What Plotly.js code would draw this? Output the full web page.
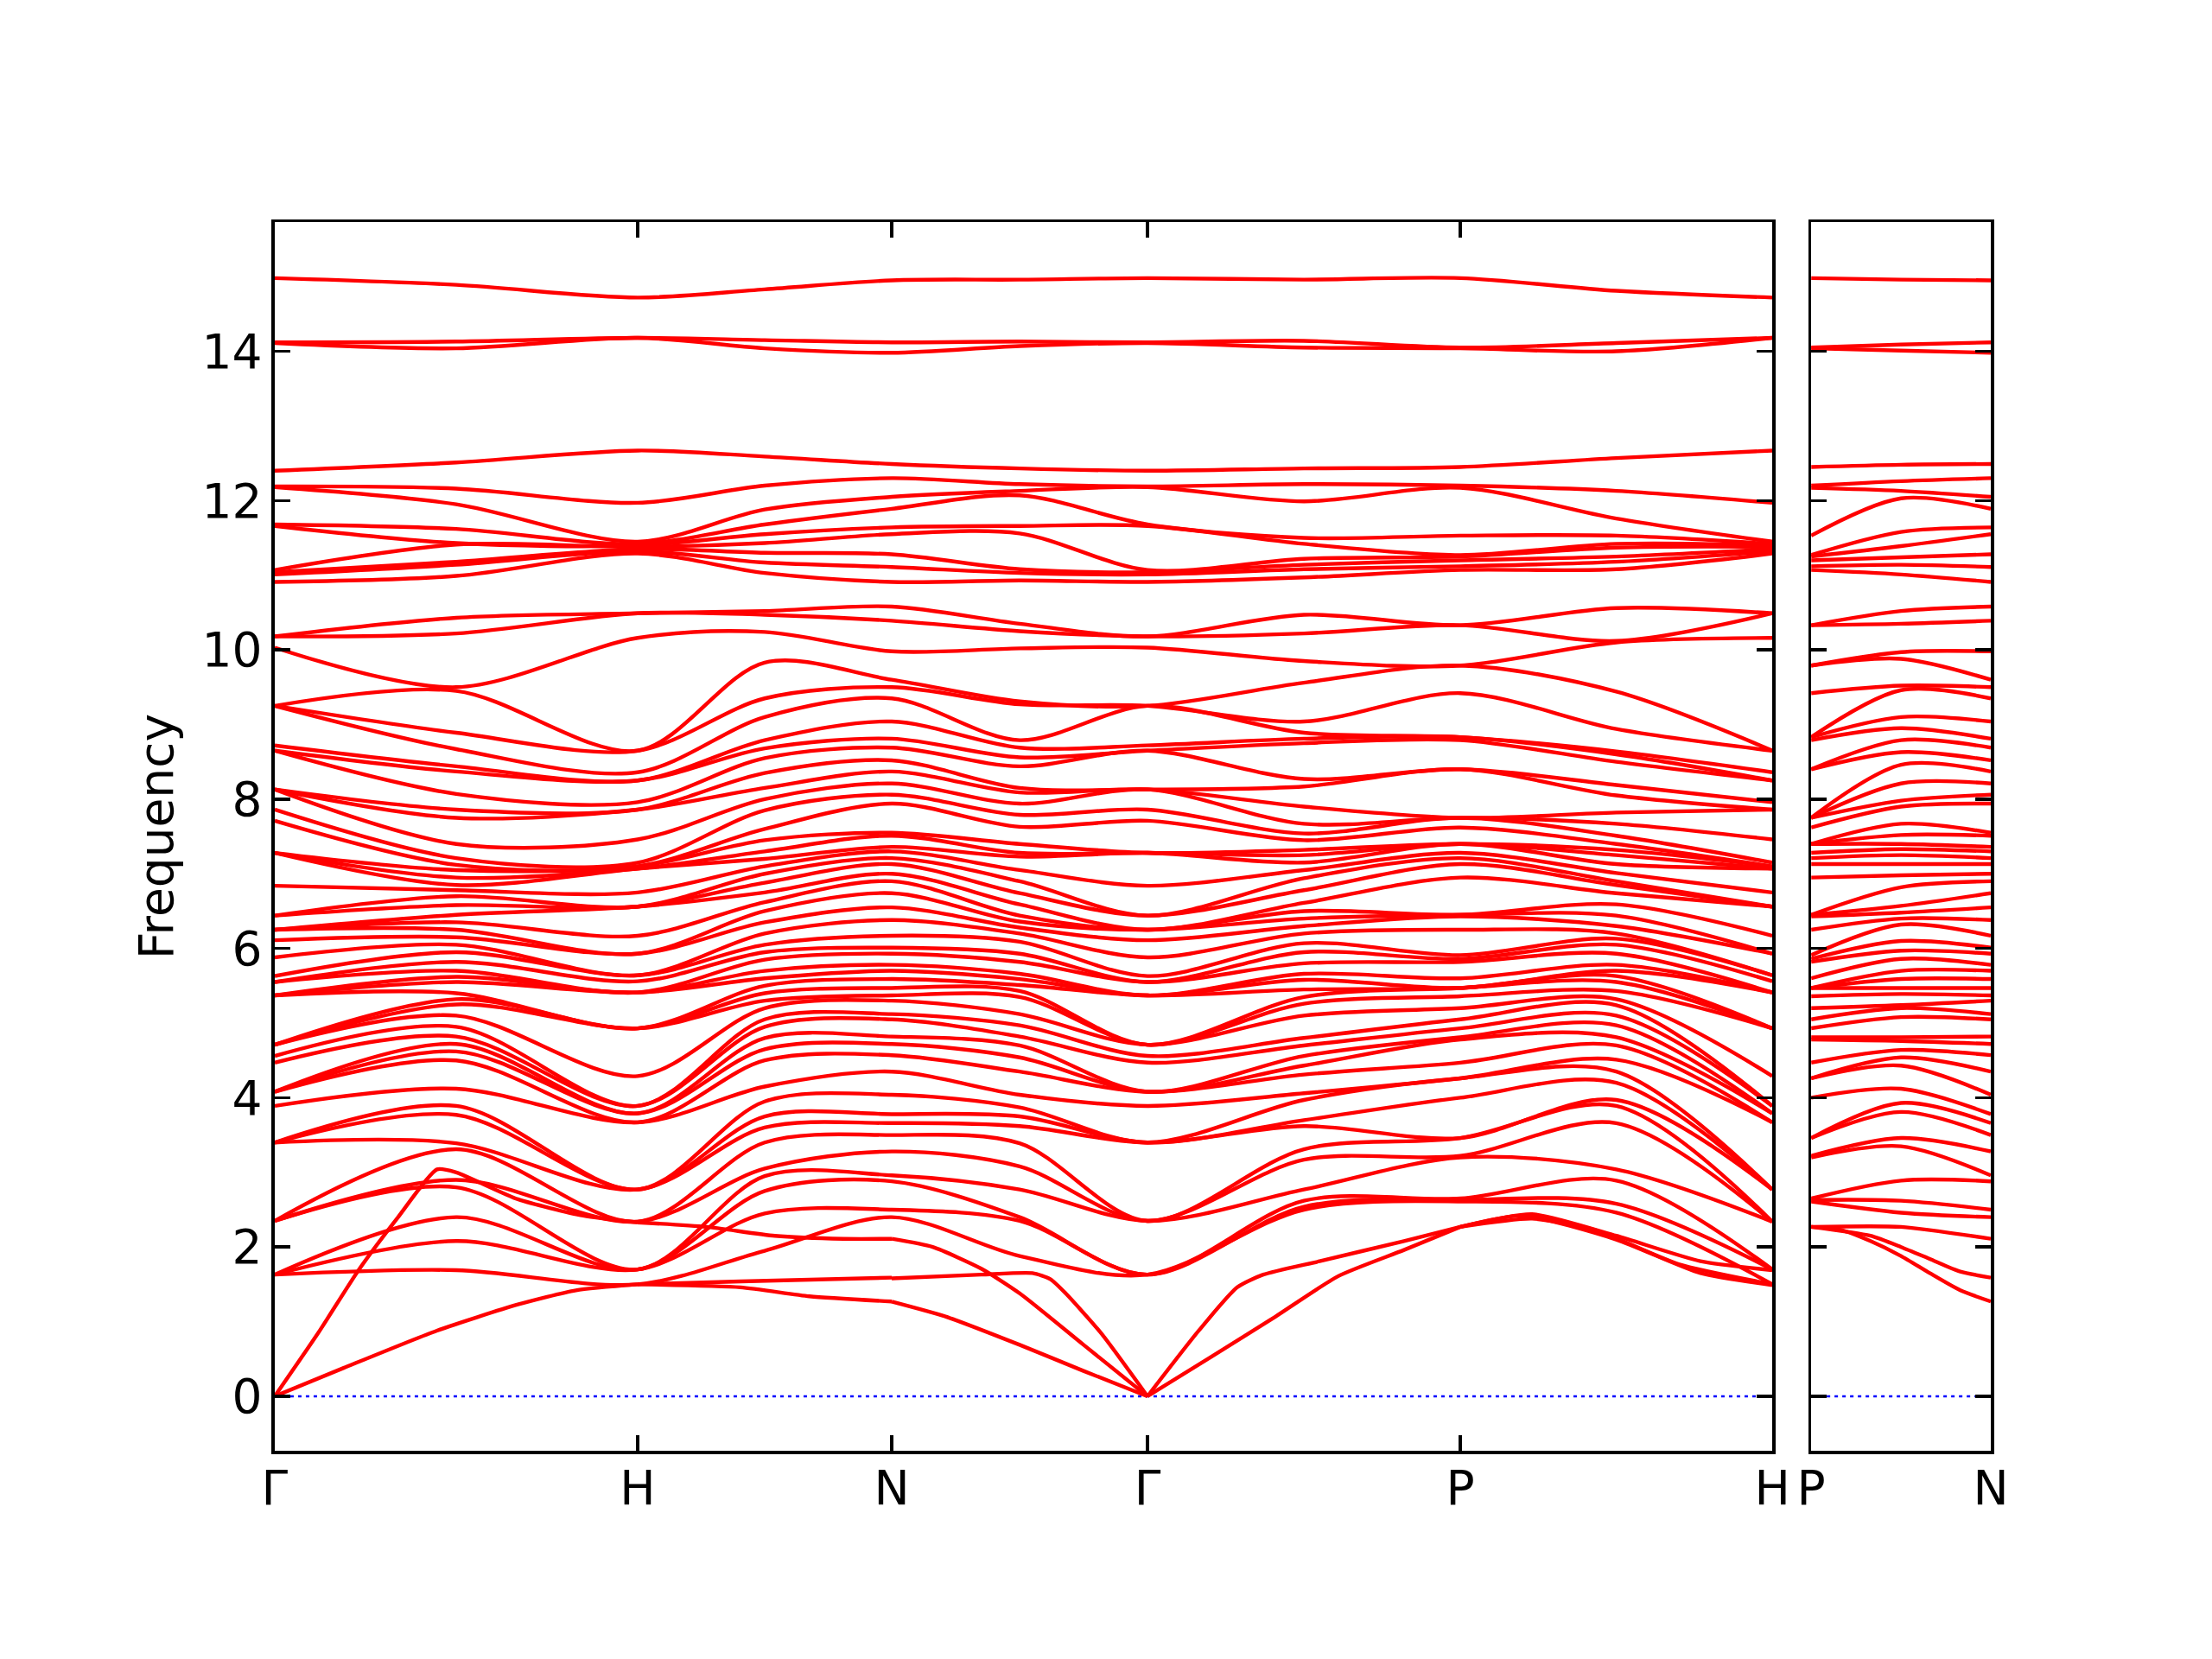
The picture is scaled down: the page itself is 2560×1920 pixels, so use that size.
<!DOCTYPE html>
<html>
<head>
<meta charset="utf-8">
<script src="https://cdn.plot.ly/plotly-3.0.1.min.js"></script>
<style>
html,body{margin:0;padding:0;background:#ffffff;}
#chart{width:2560px;height:1920px;}
</style>
</head>
<body>
<div id="chart"></div>
<script>
// ---------------- q-path (labels and segment lengths, arbitrary distance units) ----------------
const qLeft  = ['Γ','H','N','Γ','P','H'];
const segLeft = [420, 294, 296, 362, 361];
const qRight = ['P','N'];
const segRight = [208];
const yTicks = [0, 2, 4, 6, 8, 10, 12, 14];

// sampled columns along the left path, as "segment index + fraction"
const colFrac = [0, 0.5, 1, 1.5, 2, 2.5, 3, 3.5, 4, 4.5, 5];
const colFracRight = [0, 0.5, 1];

// ---------------- optical frequencies (sorted) at each column, lower group ----------------
const bG  = [1.63,1.63,1.63,2.35,2.35,2.35,3.40,3.40,3.40,3.89,4.08,4.08,4.08,4.47,4.56,4.71,4.71,4.71,5.37,5.37,5.37,5.55,5.55,5.63,5.88,6.11,6.25,6.25,6.25,6.44,6.44,6.84,7.28,7.28,7.28,7.71,7.86,8.13,8.13,8.13,8.65,8.65,8.72,9.25,9.25,9.25,10.03,10.18,10.18];
const bGH = [1.69,2.08,2.40,2.80,2.90,3.31,3.39,3.77,3.89,4.12,4.50,4.62,4.72,4.82,4.95,5.10,5.25,5.32,5.40,5.55,5.62,5.70,5.82,5.95,6.05,6.15,6.25,6.35,6.45,6.58,6.70,6.78,6.85,6.95,7.05,7.12,7.21,7.40,7.75,7.86,8.07,8.37,8.44,8.67,8.89,9.45,9.50,10.22,10.43];
const bH  = [1.50,1.70,1.70,1.70,2.34,2.34,2.77,2.77,2.77,3.67,3.67,3.79,3.79,3.89,3.89,4.29,4.93,4.93,4.93,5.41,5.41,5.41,5.56,5.64,5.64,5.93,5.93,6.17,6.56,6.56,6.56,6.75,7.07,7.07,7.10,7.10,7.15,7.46,7.86,7.86,7.96,8.25,8.25,8.36,8.65,8.65,10.16,10.49,10.49];
const bHN = [1.95,2.45,2.75,2.95,3.05,3.40,3.60,3.75,3.95,4.15,4.50,4.65,4.80,4.95,5.05,5.20,5.30,5.40,5.50,5.60,5.70,5.85,5.95,6.05,6.20,6.35,6.50,6.62,6.75,6.88,7.00,7.10,7.20,7.30,7.45,7.60,7.85,8.00,8.15,8.35,8.55,8.68,8.79,9.10,9.35,9.83,10.24,10.47,10.52];
const bN  = [2.40,2.50,2.88,2.96,3.28,3.50,3.66,3.78,4.04,4.35,4.57,4.72,4.82,5.05,5.12,5.30,5.37,5.47,5.59,5.70,5.78,5.93,6.01,6.17,6.38,6.55,6.74,6.90,7.00,7.13,7.21,7.30,7.36,7.51,7.55,7.94,8.06,8.21,8.37,8.52,8.69,8.81,9.04,9.35,9.50,9.60,9.98,10.39,10.58];
const bNG = [1.88,2.35,2.40,2.77,3.08,3.39,3.62,3.75,3.87,4.04,4.35,4.54,4.70,4.82,4.97,5.12,5.35,5.43,5.51,5.59,5.66,5.82,5.93,6.09,6.20,6.28,6.36,6.44,6.59,6.74,6.90,7.05,7.23,7.28,7.40,7.63,7.79,7.94,8.09,8.15,8.44,8.56,8.69,8.79,9.27,9.31,10.02,10.25,10.35];
const bGP = [2.50,2.54,2.62,2.77,3.17,3.31,3.62,3.70,3.97,4.06,4.31,4.43,4.56,4.70,4.80,5.10,5.26,5.35,5.45,5.58,5.66,5.80,5.95,6.07,6.20,6.30,6.40,6.50,6.61,6.78,6.94,7.05,7.15,7.25,7.32,7.45,7.54,7.67,7.90,8.17,8.27,8.75,8.81,8.89,9.04,9.56,9.85,10.22,10.47];
const bP  = [2.61,2.63,2.65,3.20,3.22,3.46,3.46,4.00,4.26,4.26,4.47,4.78,4.81,4.93,5.05,5.20,5.36,5.47,5.47,5.47,5.60,5.82,5.86,5.91,6.25,6.43,6.45,6.45,6.95,7.13,7.21,7.28,7.40,7.40,7.40,7.62,7.75,7.75,7.75,8.40,8.40,8.79,8.83,8.83,9.42,9.79,9.79,10.33,10.33];
const bPH = [2.46,2.58,2.89,3.04,3.66,3.89,3.97,4.20,4.35,4.51,4.70,4.81,4.97,5.10,5.24,5.32,5.43,5.55,5.63,5.70,5.78,5.93,6.05,6.13,6.20,6.30,6.44,6.59,6.74,6.85,6.90,7.01,7.13,7.25,7.32,7.40,7.51,7.67,7.82,8.05,8.19,8.50,8.60,8.64,8.94,9.44,10.10,10.12,10.56];
const bH2 = [1.50,1.70,1.70,2.34,2.34,2.34,2.77,2.77,2.77,3.67,3.67,3.79,3.79,3.89,3.89,4.29,4.93,4.93,4.93,5.41,5.41,5.41,5.56,5.64,5.64,5.93,5.93,6.17,6.56,6.56,6.56,6.75,7.07,7.07,7.10,7.10,7.15,7.46,7.86,7.86,7.96,8.25,8.25,8.36,8.65,8.65,10.16,10.49,10.49];
const bPN = [2.46,2.62,2.89,3.35,3.46,3.81,3.93,4.12,4.43,4.54,4.64,4.76,4.81,5.08,5.20,5.24,5.39,5.47,5.59,5.70,5.86,5.97,6.10,6.32,6.40,6.48,6.57,6.82,6.98,7.13,7.25,7.33,7.40,7.52,7.67,7.90,7.98,8.21,8.46,8.63,8.79,8.95,9.10,9.46,9.52,9.88,9.97,10.35,10.52];

// ---------------- upper group (above the 10.7 gap) ----------------
const tG  = [10.91,11.01,11.04,11.07,11.66,11.68,12.18,12.19,12.40,14.11,14.12,14.98];
const tGH = [10.99,11.14,11.18,11.41,11.43,11.62,11.95,12.16,12.51,14.04,14.13,14.89];
const tH  = [11.29,11.32,11.35,11.38,11.40,11.42,11.45,11.97,12.67,14.18,14.18,14.72];
const tHN = [11.03,11.17,11.30,11.43,11.55,11.68,11.88,12.20,12.59,14.04,14.15,14.83];
const tN  = [10.91,11.11,11.28,11.55,11.64,11.89,12.05,12.30,12.49,13.98,14.12,14.95];
const tNG = [10.93,11.03,11.08,11.56,11.66,12.07,12.13,12.22,12.43,14.07,14.13,14.96];
const tGP = [10.97,11.08,11.14,11.22,11.42,11.50,11.99,12.22,12.43,14.05,14.14,14.96];
const tP  = [11.07,11.12,11.20,11.25,11.27,11.53,12.17,12.20,12.45,14.04,14.05,14.98];
const tPH = [11.08,11.18,11.25,11.37,11.42,11.53,11.76,12.13,12.57,14.00,14.11,14.81];
const tPN = [11.01,11.14,11.24,11.39,11.58,12.03,12.13,12.26,12.48,14.01,14.09,14.96];

// ---------------- acoustic branches: fraction along segment, frequency ----------------
const acGH_LA_t = [0,0.12,0.231,0.34,0.447,0.5,0.67,0.85,1];
const acGH_LA_f = [0,0.85,1.69,2.40,3.04,3.00,2.64,2.42,2.33];
const acGH_TA_t = [0,0.19,0.447,0.67,0.83,1];
const acGH_TA_f = [0,0.38,0.88,1.23,1.42,1.50];
const acHN_1_t = [0,0.405,0.676,1];
const acHN_1_f = [1.50,1.46,1.34,1.27];
const acHN_2_t = [0,0.405,1];
const acHN_2_f = [1.50,1.54,1.59];
const acHN_3_t = [0,0.27,0.54,0.81,1];
const acHN_3_f = [2.33,2.27,2.15,2.11,2.11];
const acNG_1_t = [0,0.21,0.5,0.75,1];
const acNG_1_f = [1.27,1.07,0.69,0.34,0];
const acNG_2_t = [0,0.16,0.35,0.5,0.75,1];
const acNG_2_f = [2.11,2.00,1.71,1.38,0.69,0];
const acNG_3_t = [0,0.35,0.55,0.62,0.68,0.82,1];
const acNG_3_f = [1.58,1.63,1.65,1.57,1.38,0.84,0];
const acGP_1_t = [0,0.164,0.287,0.37,0.55,0.82,1];
const acGP_1_f = [0,0.88,1.46,1.63,1.81,2.08,2.27];
const acGP_2_t = [0,0.2,0.41,0.61,0.82,1];
const acGP_2_f = [0,0.52,1.07,1.61,1.96,2.27];
const acPH_1_t = [0,0.23,0.5,0.77,1];
const acPH_1_f = [2.27,2.44,2.15,1.81,1.69];
const acPH_2_t = [0,0.2,0.5,0.77,1];
const acPH_2_f = [2.27,2.42,2.10,1.65,1.49];
const acPH_3_t = [0,0.23,0.43,0.7,1];
const acPH_3_f = [2.27,2.38,2.23,1.77,1.50];
const acPN_1_t = [0,0.165,0.33,0.5,0.66,0.83,1];
const acPN_1_f = [2.27,2.23,2.08,1.88,1.65,1.42,1.27];
const acPN_2_t = [0,0.33,0.5,0.66,0.83,1];
const acPN_2_f = [2.27,2.15,2.00,1.84,1.67,1.59];
const acPN_3_t = [0,0.5,1];
const acPN_3_f = [2.27,2.27,2.11];

// ---------------- build ----------------
function cumulative(segs){ const c=[0]; segs.forEach(l=>c.push(c[c.length-1]+l)); return c; }
const cumL = cumulative(segLeft);
const cumR = cumulative(segRight);
function posOf(frac, segs, cum){
  const s = Math.min(Math.floor(frac), segs.length-1);
  return cum[s] + (frac - s) * segs[s];
}
const colXL = colFrac.map(c => posOf(c, segLeft, cumL));
const colXR = colFracRight.map(c => posOf(c, segRight, cumR));

const sortNum = a => a.slice().sort((p,q)=>p-q);
const leftCols = [
  bG.concat(tG), bGH.concat(tGH), bH.concat(tH), bHN.concat(tHN), bN.concat(tN),
  bNG.concat(tNG), bG.concat(tG), bGP.concat(tGP), bP.concat(tP), bPH.concat(tPH), bH2.concat(tH)
].map(sortNum);
const rightCols = [bP.concat(tP), bPN.concat(tPN), bN.concat(tN)].map(sortNum);

const RED = '#ff0000';
const bandLine = {color: RED, width: 4.4, shape: 'spline', smoothing: 0.9};
const traces = [];
const nb = leftCols[0].length;
for (let i = 0; i < nb; i++) {
  traces.push({x: colXL, y: leftCols.map(c => c[i]), mode: 'lines', line: bandLine,
               xaxis: 'x', yaxis: 'y', hoverinfo: 'skip', showlegend: false});
  traces.push({x: colXR, y: rightCols.map(c => c[i]), mode: 'lines', line: bandLine,
               xaxis: 'x2', yaxis: 'y2', hoverinfo: 'skip', showlegend: false});
}

const acoustic = [
  [0, acGH_LA_t, acGH_LA_f, 'L'], [0, acGH_TA_t, acGH_TA_f, 'L'],
  [1, acHN_1_t, acHN_1_f, 'L'], [1, acHN_2_t, acHN_2_f, 'L'], [1, acHN_3_t, acHN_3_f, 'L'],
  [2, acNG_1_t, acNG_1_f, 'L'], [2, acNG_2_t, acNG_2_f, 'L'], [2, acNG_3_t, acNG_3_f, 'L'],
  [3, acGP_1_t, acGP_1_f, 'L'], [3, acGP_2_t, acGP_2_f, 'L'],
  [4, acPH_1_t, acPH_1_f, 'L'], [4, acPH_2_t, acPH_2_f, 'L'], [4, acPH_3_t, acPH_3_f, 'L'],
  [0, acPN_1_t, acPN_1_f, 'R'], [0, acPN_2_t, acPN_2_f, 'R'], [0, acPN_3_t, acPN_3_f, 'R']
];
acoustic.forEach(([s, t, f, side]) => {
  const segs = side === 'L' ? segLeft : segRight;
  const cum = side === 'L' ? cumL : cumR;
  traces.push({x: t.map(v => cum[s] + v * segs[s]), y: f, mode: 'lines',
               line: {color: RED, width: 4.4, shape: 'spline', smoothing: 0.6},
               xaxis: side === 'L' ? 'x' : 'x2', yaxis: side === 'L' ? 'y' : 'y2',
               hoverinfo: 'skip', showlegend: false});
});

const yRange = [-0.73, 15.73];
const yDom = [0.1255, 0.8661];
const common = {
  ticks: 'inside', ticklen: 18, tickwidth: 3.5, tickcolor: '#000',
  showline: true, linewidth: 3.5, linecolor: '#000', mirror: 'allticks',
  showgrid: false, zeroline: false, tickfont: {family: 'DejaVu Sans', size: 55, color: '#000'}
};
const layout = {
  width: 2560, height: 1920,
  margin: {l: 0, r: 0, t: 0, b: 0},
  paper_bgcolor: '#ffffff', plot_bgcolor: 'rgba(0,0,0,0)',
  showlegend: false,
  font: {family: 'DejaVu Sans', size: 55, color: '#000'},
  xaxis: Object.assign({}, common, {domain: [0.1242, 0.8012], range: [0, cumL[cumL.length-1]],
          tickmode: 'array', tickvals: cumL, ticktext: qLeft, anchor: 'y', ticklabelstandoff: -8}),
  yaxis: Object.assign({}, common, {domain: yDom, range: yRange, tickmode: 'array',
          tickvals: yTicks, ticktext: yTicks.map(String), anchor: 'x',
          title: {text: 'Frequency', font: {family: 'DejaVu Sans', size: 55, color: '#000'}, standoff: 16}}),
  xaxis2: Object.assign({}, common, {domain: [0.8188, 0.9], range: [0, cumR[cumR.length-1]],
          tickmode: 'array', tickvals: cumR, ticktext: qRight, anchor: 'y2', ticklabelstandoff: -8}),
  yaxis2: Object.assign({}, common, {domain: yDom, range: yRange, tickmode: 'array',
          tickvals: yTicks, showticklabels: false, anchor: 'x2'}),
  shapes: [
    {type: 'line', xref: 'x domain', yref: 'y', x0: 0, x1: 1, y0: 0, y1: 0, layer: 'below',
     line: {color: '#0000ff', width: 2.5, dash: '4px,5px'}},
    {type: 'line', xref: 'x2 domain', yref: 'y2', x0: 0, x1: 1, y0: 0, y1: 0, layer: 'below',
     line: {color: '#0000ff', width: 2.5, dash: '4px,5px'}}
  ]
};
Plotly.newPlot('chart', traces, layout, {displayModeBar: false, staticPlot: true});
</script>
</body>
</html>
